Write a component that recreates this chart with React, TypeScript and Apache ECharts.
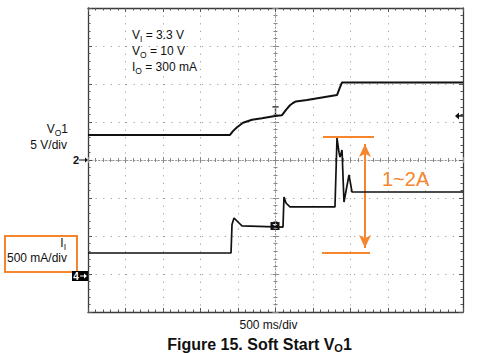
import React, { useEffect, useRef } from "react";
import * as echarts from "echarts";

// Time axis: 500 ms/div, 10 divisions
const timeTicksMs = [0, 500, 1000, 1500, 2000, 2500, 3000, 3500, 4000, 4500, 5000];

// Channel 2: output voltage VO1 (V), 5 V/div
const voTimeMs = [0, 1893, 1933, 1987, 2067, 2187, 2320, 2493, 2587, 2640, 2693, 2733, 2773, 2920, 3160, 3320, 3353, 3387, 5000];
const voVolts = [3.3, 3.3, 3.8, 4.3, 4.9, 5.3, 5.5, 5.8, 5.9, 6.6, 7.2, 7.5, 7.7, 7.9, 8.3, 8.55, 9.4, 10.2, 10.2];

// Channel 4: input current II (mA), 500 mA/div
const iiTimeMs = [0, 1907, 1920, 1947, 2000, 2053, 2600, 2613, 2640, 2693, 3293, 3320, 3347, 3360, 3387, 3413, 3480, 3520, 5000];
const iiMilliAmps = [276, 276, 650, 737, 684, 632, 618, 1013, 934, 882, 882, 1789, 1600, 1539, 1632, 947, 1303, 1079, 1079];

// Annotation (1~2A range) in data units
const annotTopMa = 1800;
const annotBottomMa = 276;
const annotTopSpanMs = [3133, 3813];
const annotBottomSpanMs = [3120, 3760];
const annotArrowMs = 3693;
const annotArrowMa = [1711, 342];

const triggerLevelV = 5.8;
const triggerTimeMs = 2500;

const ORANGE = "#F5862E";
const FONT = "'Liberation Sans', Arial, Helvetica, sans-serif";

export default function App() {
  const ref = useRef<HTMLDivElement>(null);

  useEffect(() => {
    const chart = echarts.init(ref.current!, null, { renderer: "svg" });

    const gridDotV = { color: "#a0a0a0", width: 1, type: [1.2, 6.4] as number[] };
    const borderLine = { show: true, onZero: false, lineStyle: { color: "#3a3a3a", width: 1.3 } };
    const tickStyle = { color: "#555", width: 1 };

    const mainX = (position: string, split: boolean) => ({
      type: "value",
      min: timeTicksMs[0],
      max: timeTicksMs[timeTicksMs.length - 1],
      interval: timeTicksMs[1] - timeTicksMs[0],
      position,
      axisLine: borderLine,
      axisTick: { show: true, inside: true, length: 4, lineStyle: tickStyle },
      minorTick: { show: true, splitNumber: 5, length: 2.5, lineStyle: tickStyle },
      axisLabel: { show: false },
      splitLine: { show: split, lineStyle: gridDotV },
    });

    const centerX = (inside: boolean, line: boolean) => ({
      type: "value",
      min: 0,
      max: 10,
      interval: 1,
      position: "bottom",
      offset: -152,
      axisLine: {
        show: line,
        onZero: false,
        lineStyle: { color: "#9a9a9a", width: 1, type: [1.5, 2] as number[] },
      },
      axisTick: { show: true, inside, length: 3, lineStyle: { color: "#888" } },
      minorTick: { show: true, splitNumber: 5, length: 2, lineStyle: { color: "#888" } },
      axisLabel: { show: false },
      splitLine: { show: false },
    });

    const centerY = (inside: boolean, line: boolean) => ({
      type: "value",
      min: 0,
      max: 8,
      interval: 1,
      position: "left",
      offset: -187.5,
      axisLine: {
        show: line,
        onZero: false,
        lineStyle: { color: "#9a9a9a", width: 1, type: [1.5, 2] as number[] },
      },
      axisTick: { show: true, inside, length: 3, lineStyle: { color: "#888" } },
      minorTick: { show: true, splitNumber: 5, length: 2, lineStyle: { color: "#888" } },
      axisLabel: { show: false },
      splitLine: { show: false },
    });

    const option: any = {
      animation: false,
      backgroundColor: "#ffffff",
      grid: { left: 88, top: 8, width: 375, height: 304, show: false },
      xAxis: [mainX("bottom", true), mainX("top", false), centerX(true, true), centerX(false, false)],
      yAxis: [
        {
          type: "value",
          min: -20,
          max: 20,
          interval: 5,
          position: "left",
          axisLine: borderLine,
          axisTick: { show: true, inside: true, length: 4, lineStyle: tickStyle },
          minorTick: { show: true, splitNumber: 5, length: 2.5, lineStyle: tickStyle },
          axisLabel: { show: false },
          splitLine: { show: true, lineStyle: gridDotV },
        },
        {
          type: "value",
          min: -500,
          max: 3500,
          interval: 500,
          position: "right",
          axisLine: borderLine,
          axisTick: { show: true, inside: true, length: 4, lineStyle: tickStyle },
          minorTick: { show: true, splitNumber: 5, length: 2.5, lineStyle: tickStyle },
          axisLabel: { show: false },
          splitLine: { show: false },
        },
        centerY(true, true),
        centerY(false, false),
      ],
      series: [
        {
          name: "VO1",
          type: "line",
          xAxisIndex: 0,
          yAxisIndex: 0,
          showSymbol: false,
          symbol: "none",
          data: voTimeMs.map((t, i) => [t, voVolts[i]]),
          lineStyle: { color: "#111", width: 2 },
          z: 5,
        },
        {
          name: "II",
          type: "line",
          xAxisIndex: 0,
          yAxisIndex: 1,
          showSymbol: false,
          symbol: "none",
          data: iiTimeMs.map((t, i) => [t, iiMilliAmps[i]]),
          lineStyle: { color: "#111", width: 1.7 },
          z: 5,
          markLine: {
            silent: true,
            symbol: "none",
            label: { show: false },
            lineStyle: { color: ORANGE, width: 2, type: "solid" },
            data: [
              [
                { coord: [annotTopSpanMs[0], annotTopMa] },
                { coord: [annotTopSpanMs[1], annotTopMa] },
              ],
              [
                { coord: [annotBottomSpanMs[0], annotBottomMa] },
                { coord: [annotBottomSpanMs[1], annotBottomMa] },
              ],
              [
                { coord: [annotArrowMs, annotArrowMa[0]], symbol: "arrow", symbolSize: [9, 13] },
                { coord: [annotArrowMs, annotArrowMa[1]], symbol: "arrow", symbolSize: [9, 13] },
              ],
            ],
          },
        },
      ],
    };

    chart.setOption(option);

    const gnd2Y = chart.convertToPixel({ yAxisIndex: 0 }, 0) as number;
    const gnd4Y = chart.convertToPixel({ yAxisIndex: 1 }, 0) as number;
    const trigY = chart.convertToPixel({ yAxisIndex: 0 }, triggerLevelV) as number;
    const trigX = chart.convertToPixel({ xAxisIndex: 0 }, triggerTimeMs) as number;
    const leftX = chart.convertToPixel({ xAxisIndex: 0 }, timeTicksMs[0]) as number;
    const rightX = chart.convertToPixel({ xAxisIndex: 0 }, timeTicksMs[timeTicksMs.length - 1]) as number;
    const iiTrigY = chart.convertToPixel({ yAxisIndex: 1 }, iiMilliAmps[6]) as number;
    const voTrigY = chart.convertToPixel({ yAxisIndex: 0 }, voVolts[7]) as number;

    const rich = {
      m: { fontSize: 12, fontFamily: FONT, fill: "#111", lineHeight: 16 },
      s: { fontSize: 8.5, fontFamily: FONT, fill: "#111", lineHeight: 16, padding: [7, 0, 0, 0] },
    };
    const richBold = {
      m: { fontSize: 16, fontFamily: FONT, fontWeight: "bold", fill: "#111", lineHeight: 19 },
      s: { fontSize: 11, fontFamily: FONT, fontWeight: "bold", fill: "#111", lineHeight: 19, padding: [8, 0, 0, 0] },
    };

    chart.setOption({
      graphic: [
        // condition text
        {
          type: "text",
          x: 132,
          y: 27,
          style: {
            text: "{m|V}{s|I}{m| = 3.3 V}\n{m|V}{s|O}{m| = 10 V}\n{m|I}{s|O}{m| = 300 mA}",
            rich,
            align: "left",
            verticalAlign: "top",
          },
        },
        // channel 2 label
        {
          type: "text",
          x: 68,
          y: 129,
          style: { text: "{m|V}{s|O}{m|1}", rich, align: "right", verticalAlign: "middle" },
        },
        {
          type: "text",
          x: 67,
          y: 145,
          style: { text: "5 V/div", fontSize: 12, fontFamily: FONT, fill: "#111", align: "right", verticalAlign: "middle" },
        },
        // channel 4 label box
        {
          type: "rect",
          shape: { x: 5, y: 236, width: 72, height: 36 },
          style: { fill: "none", stroke: ORANGE, lineWidth: 2 },
        },
        {
          type: "text",
          x: 66,
          y: 243,
          style: { text: "{m|I}{s|I}", rich, align: "right", verticalAlign: "middle" },
        },
        {
          type: "text",
          x: 67,
          y: 258,
          style: { text: "500 mA/div", fontSize: 12, fontFamily: FONT, fill: "#111", align: "right", verticalAlign: "middle" },
        },
        // ground marker ch2
        {
          type: "text",
          x: leftX - 9,
          y: gnd2Y,
          style: { text: "2", fontSize: 11, fontWeight: "bold", fontFamily: FONT, fill: "#111", align: "right", verticalAlign: "middle" },
        },
        {
          type: "line",
          shape: { x1: leftX - 9, y1: gnd2Y, x2: leftX - 2, y2: gnd2Y },
          style: { stroke: "#111", lineWidth: 1 },
        },
        {
          type: "polygon",
          shape: { points: [[leftX - 3, gnd2Y - 2.5], [leftX, gnd2Y], [leftX - 3, gnd2Y + 2.5]] },
          style: { fill: "#111" },
        },
        // ground marker ch4
        {
          type: "rect",
          shape: { x: leftX - 16, y: gnd4Y - 3, width: 16, height: 10 },
          style: { fill: "#000" },
        },
        {
          type: "text",
          x: leftX - 12,
          y: gnd4Y + 2,
          style: { text: "4", fontSize: 10, fontWeight: "bold", fontFamily: FONT, fill: "#fff", align: "center", verticalAlign: "middle" },
        },
        {
          type: "line",
          shape: { x1: leftX - 8, y1: gnd4Y + 2, x2: leftX - 2, y2: gnd4Y + 2 },
          style: { stroke: "#fff", lineWidth: 1 },
        },
        {
          type: "polygon",
          shape: { points: [[leftX - 4, gnd4Y - 0.5], [leftX - 1, gnd4Y + 2], [leftX - 4, gnd4Y + 4.5]] },
          style: { fill: "#fff" },
        },
        // trigger level marker (right)
        {
          type: "polygon",
          shape: { points: [[rightX - 8, trigY], [rightX - 4, trigY - 3.5], [rightX - 4, trigY + 3.5]] },
          style: { fill: "#111" },
        },
        {
          type: "line",
          shape: { x1: rightX - 5, y1: trigY, x2: rightX, y2: trigY },
          style: { stroke: "#111", lineWidth: 1.5 },
        },
        // trigger markers on traces
        {
          type: "polyline",
          shape: { points: [[trigX - 3, voTrigY - 9], [trigX + 3, voTrigY - 9]] },
          style: { stroke: "#111", lineWidth: 1.3 },
        },
        {
          type: "line",
          shape: { x1: trigX, y1: voTrigY - 9, x2: trigX, y2: voTrigY },
          style: { stroke: "#111", lineWidth: 1.3 },
        },
        {
          type: "rect",
          shape: { x: trigX - 5, y: iiTrigY - 5, width: 9, height: 8 },
          style: { fill: "#111" },
        },
        {
          type: "text",
          x: trigX - 0.5,
          y: iiTrigY - 1,
          style: { text: "T", fontSize: 7, fontWeight: "bold", fontFamily: FONT, fill: "#fff", align: "center", verticalAlign: "middle" },
        },
        // annotation text
        {
          type: "text",
          x: 382,
          y: 179,
          style: { text: "1~2A", fontSize: 20, fontFamily: FONT, fill: ORANGE, align: "left", verticalAlign: "middle" },
        },
        // axis caption
        {
          type: "text",
          x: 268.5,
          y: 325,
          style: { text: "500 ms/div", fontSize: 12, fontFamily: FONT, fill: "#111", align: "center", verticalAlign: "middle" },
        },
        // figure title
        {
          type: "text",
          x: 259.5,
          y: 344,
          style: {
            text: "{m|Figure 15. Soft Start V}{s|O}{m|1}",
            rich: richBold,
            align: "center",
            verticalAlign: "middle",
          },
        },
      ],
    });

    return () => chart.dispose();
  }, []);

  return (
    <div
      ref={ref}
      style={{ position: "absolute", left: 0, top: 0, width: 479, height: 353 }}
    />
  );
}
